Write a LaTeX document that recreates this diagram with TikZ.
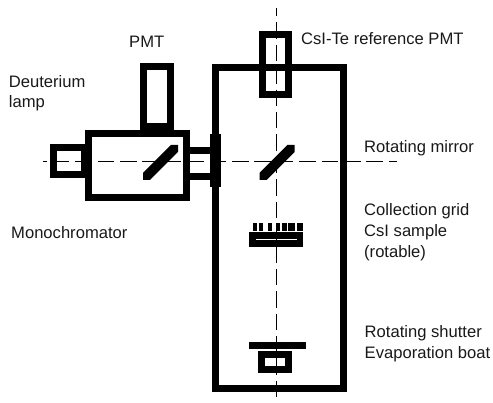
\documentclass[tikz,border=0pt]{standalone}
\usepackage{fontspec}
\setmainfont{Liberation Sans}
\usetikzlibrary{positioning}
\tikzset{
    wall/.style={draw=black, line width=7pt, miter limit=10},
    axisline/.style={black, line width=0.9pt, dash pattern=on 16.5pt off 5.9pt},
    lbl/.style={font=\fontsize{16.6}{19}\selectfont, anchor=base west, inner sep=0pt, text=black!90}
}
\begin{document}
\begin{tikzpicture}[x=1pt, y=-1pt]
    \useasboundingbox (0,0) rectangle (493,403);

    % Main chamber
    \draw[wall] (215.8,67.8) rectangle (343.8,388.8);

    % Reference PMT on top of chamber
    \draw[wall] (262,34.5) rectangle (288.3,95);

    % Monochromator with lamp, PMT and tube
    \draw[wall] (143.5,66.8) rectangle (170,127);
    \draw[wall] (53,147.5) rectangle (84,174.2);
    \draw[wall] (88,133.2) rectangle (186,197.5);
    \draw[wall] (186,150.3) -- (215,150.3);
    \draw[wall] (186,176.3) -- (215,176.3);
    \fill (210,134.3) rectangle (220.7,186.7);

    % Rotating mirrors
    \foreach \mx in {0,116.5} {
        \fill[xshift=\mx pt] (171,145) -- (178,145) -- (178,152) -- (150,180) -- (143,180) -- (143,173) -- cycle;
    }

    % Collection grid and sample
    \foreach \ga/\gb in {253.3/257.3, 259.3/263.3, 268.3/272.3, 276/280, 281.7/287, 288.3/294.7, 296.7/302.7} {
        \fill (\ga,223.5) rectangle (\gb,230.7);
    }
    \fill (248.5,232.2) rectangle (303.3,247);
    \draw[white, line width=0.9pt] (256,239.3) -- (296.7,239.3);

    % Shutter and evaporation boat
    \fill (249.3,341.7) rectangle (305.7,349);
    \draw[wall] (261.8,354.2) rectangle (288.8,369.8);
    \draw[line width=0.9pt] (276,357) -- (276,366);

    % Optical axes
    \draw[axisline, dash phase=12.6pt] (43,161.7) -- (397,161.7);
    \draw[axisline, dash phase=8pt] (276.5,8) -- (276.5,403);

    % Labels
    \node[lbl] (pmt) at (129,47.3) {PMT};
    \node[lbl] (deut) at (8.7,88) {Deuterium};
    \node[lbl] (lamp) at (8.7,107.5) {lamp};
    \node[lbl] (mono) at (11,238.3) {Monochromator};
    \node[lbl] (refpmt) at (301,44.5) {CsI-Te reference PMT};
    \node[lbl] (mirror) at (364,152.7) {Rotating mirror};
    \node[lbl] (grid) at (364,215.7) {Collection grid};
    \node[lbl] (sample) at (364,236.7) {CsI sample};
    \node[lbl] (rotable) at (364,257.5) {(rotable)};
    \node[lbl] (shutter) at (364.5,337.3) {Rotating shutter};
    \node[lbl] (boat) at (364.5,358.3) {Evaporation boat};
\end{tikzpicture}
\end{document}
